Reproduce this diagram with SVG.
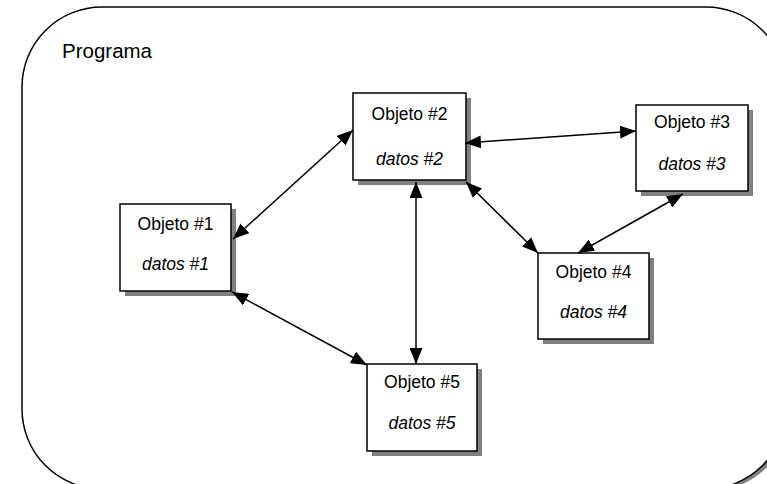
<svg xmlns="http://www.w3.org/2000/svg" width="767" height="484" viewBox="0 0 767 484">
  <style>
    .shadow { fill: #808080; stroke: none; }
    .box { fill: #ffffff; stroke: #000000; stroke-width: 1.5; }
    .label { font-family: "Liberation Sans", Arial, sans-serif; font-size: 17.5px; fill: #000000; text-anchor: middle; }
    .data { font-style: italic; }
    .title { font-family: "Liberation Sans", Arial, sans-serif; font-size: 20.5px; fill: #000000; }
    .link { stroke: #000000; stroke-width: 1.5; fill: none; marker-start: url(#head); marker-end: url(#head); }
  </style>
  <defs>
    <marker id="head" viewBox="0 0 16 13" refX="16" refY="6.5" markerWidth="16" markerHeight="13" markerUnits="userSpaceOnUse" orient="auto-start-reverse">
      <path d="M0,0 L16,6.5 L0,13 z" fill="#000000"/>
    </marker>
  </defs>

  <rect width="767" height="484" fill="#ffffff"/>

  <!-- program boundary -->
  <g id="programa">
    <rect x="26" y="11" width="764" height="480" rx="80" ry="80" class="shadow"/>
    <rect x="22" y="7" width="764" height="482" rx="80" ry="80" fill="#ffffff" stroke="#000000" stroke-width="1.5"/>
    <text x="62" y="58" class="title">Programa</text>
  </g>

  <!-- object nodes -->
  <g id="objeto1">
    <rect x="125" y="209" width="111" height="87" class="shadow"/>
    <rect x="120" y="204" width="111" height="87" class="box"/>
    <text x="175.5" y="230" class="label">Objeto #1</text>
    <text x="175.5" y="270" class="label data">datos #1</text>
  </g>
  <g id="objeto2">
    <rect x="358" y="98" width="113" height="87" class="shadow"/>
    <rect x="353" y="93" width="113" height="87" class="box"/>
    <text x="409.5" y="120" class="label">Objeto #2</text>
    <text x="409.5" y="165" class="label data">datos #2</text>
  </g>
  <g id="objeto3">
    <rect x="641" y="110" width="112" height="86" class="shadow"/>
    <rect x="636" y="105" width="112" height="86" class="box"/>
    <text x="692" y="128" class="label">Objeto #3</text>
    <text x="692" y="170" class="label data">datos #3</text>
  </g>
  <g id="objeto4">
    <rect x="543" y="258" width="111" height="86" class="shadow"/>
    <rect x="538" y="253" width="111" height="86" class="box"/>
    <text x="593.5" y="278" class="label">Objeto #4</text>
    <text x="593.5" y="318" class="label data">datos #4</text>
  </g>
  <g id="objeto5">
    <rect x="372" y="369" width="110" height="87" class="shadow"/>
    <rect x="367" y="364" width="110" height="87" class="box"/>
    <text x="422" y="388" class="label">Objeto #5</text>
    <text x="422" y="429" class="label data">datos #5</text>
  </g>

  <!-- message links between objects -->
  <g id="connectors">
    <line x1="233" y1="239" x2="353" y2="130" class="link"/>
    <line x1="465" y1="143" x2="636" y2="131" class="link"/>
    <line x1="466" y1="182" x2="538" y2="253" class="link"/>
    <line x1="578" y1="253" x2="683" y2="194" class="link"/>
    <line x1="416" y1="182" x2="416" y2="364" class="link"/>
    <line x1="232" y1="292" x2="367" y2="365" class="link"/>
  </g>
</svg>
